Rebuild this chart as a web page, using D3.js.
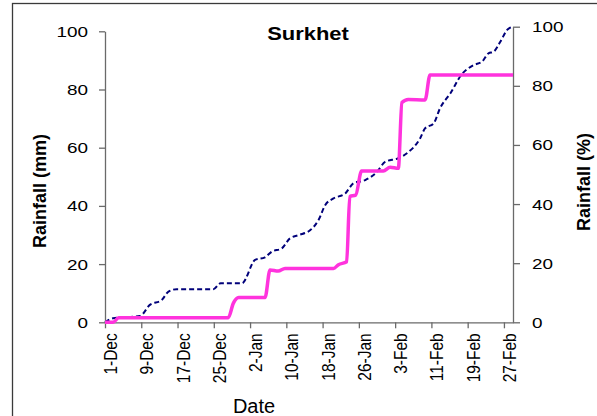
<!DOCTYPE html>
<html>
<head>
<meta charset="utf-8">
<script src="https://cdn.jsdelivr.net/npm/d3@7"></script>
<style>
  html, body { margin: 0; padding: 0; background: #fff; }
  svg { display: block; font-family: "Liberation Sans", Arial, sans-serif; }
</style>
</head>
<body>
<svg id="chart" width="597" height="416"></svg>
<script>
// ---- data (day offsets from 1-Dec; Dec 1 .. Feb 29) ----
const tickDays   = [0, 8, 16, 24, 32, 40, 48, 56, 64, 72, 80, 88];
const tickLabels = ["1-Dec", "9-Dec", "17-Dec", "25-Dec", "2-Jan", "10-Jan", "18-Jan", "26-Jan", "3-Feb", "11-Feb", "19-Feb", "27-Feb"];
const yTicks     = [0, 20, 40, 60, 80, 100];

// cumulative rainfall (mm), left axis – solid magenta
const mmDays   = [0, 1.8, 3, 27.2, 28.3, 29.5, 35.3, 36.4, 38.2, 39.7, 50.4, 51.5, 53.3, 54, 55.3, 56.6, 61.4, 62.9, 64.7, 65.5, 66.9, 70.6, 71.7, 90];
const mmValues = [0, 0, 1.6, 1.6, 6.5, 8.5, 8.5, 18, 17.6, 18.5, 18.5, 19.8, 20.8, 43.2, 43.7, 52, 52, 53.3, 52.9, 75.5, 76.6, 76.4, 85, 85];

// cumulative rainfall (%), right axis – dashed navy
const pctDays   = [0, 1.8, 7.7, 9.9, 12.5, 14, 15.8, 23.9, 25.5, 30.2, 33.1, 35.3, 36.8, 39, 40.8, 42.7, 45.3, 47.1, 48.6, 50.4, 53, 54.8, 57.4, 60, 61.8, 64.7, 66.6, 69.5, 70.6, 72.5, 73.9, 76.2, 78.6, 81.3, 83.2, 84.6, 85.7, 87.2, 88.7, 90];
const pctValues = [0, 1.35, 2.1, 5.9, 7.5, 10.4, 11.2, 11.2, 13.2, 13.2, 21.1, 22, 23.9, 25, 28.4, 29.5, 31.2, 34.6, 39.7, 41.9, 43.6, 47, 48.1, 50.9, 54.3, 55.5, 57.2, 62.2, 65.6, 67.3, 72.4, 77.5, 83.7, 87, 88.2, 91, 91.5, 94.9, 98.9, 100];

const svg = d3.select("#chart");

// outer frame
svg.append("rect")
  .attr("x", 12.5).attr("y", 3.5)
  .attr("width", 620).attr("height", 450)
  .attr("fill", "none").attr("stroke", "#3a3a3a").attr("stroke-width", 1.3);

const x  = d3.scaleLinear().domain([0, 90]).range([105, 513]);
const yL = d3.scaleLinear().domain([0, 100]).range([322.3, 31.3]);
const yR = d3.scaleLinear().domain([0, 100]).range([322.3, 26.7]);

const axisColor = "#6a6a6a";
function styleAxis(g) {
  g.select(".domain").attr("stroke", axisColor).attr("stroke-width", 1.3);
  g.selectAll(".tick line").attr("stroke", axisColor).attr("stroke-width", 1.3);
  g.selectAll(".tick text").attr("fill", "#000");
}

// x axis
const gx = svg.append("g").attr("transform", "translate(0,322.3)")
  .call(d3.axisBottom(x).tickValues(tickDays).tickFormat((d, i) => tickLabels[i]).tickSize(6).tickSizeOuter(0));
styleAxis(gx);
gx.selectAll(".tick text")
  .attr("font-size", 15.5)
  .attr("text-anchor", "end")
  .attr("transform", "rotate(-90) scale(1,1.22)")
  .attr("x", -11).attr("y", 9.4).attr("dy", 0);

// left y axis
const gl = svg.append("g").attr("transform", "translate(105,0)")
  .call(d3.axisLeft(yL).tickValues(yTicks).tickSize(6).tickSizeOuter(0));
styleAxis(gl);
gl.selectAll(".tick text").attr("font-size", 15.5).attr("x", 0)
  .attr("transform", "translate(-17,0) scale(1.22,1)")
  .attr("text-anchor", "end");

// right y axis
const gr = svg.append("g").attr("transform", "translate(513,0)")
  .call(d3.axisRight(yR).tickValues(yTicks).tickSize(7).tickSizeOuter(0));
styleAxis(gr);
gr.selectAll(".tick text").attr("font-size", 15.5).attr("x", 0)
  .attr("transform", "translate(19,0) scale(1.22,1)")
  .attr("text-anchor", "start");

// lines
const lineMM = d3.line()
  .x((d, i) => x(mmDays[i])).y(d => yL(d))
  .curve(d3.curveMonotoneX);
const linePct = d3.line()
  .x((d, i) => x(pctDays[i])).y(d => yR(d))
  .curve(d3.curveMonotoneX);

svg.append("path").datum(pctValues)
  .attr("d", linePct)
  .attr("fill", "none").attr("stroke", "#00007a")
  .attr("stroke-width", 2).attr("stroke-dasharray", "5,3");

svg.append("path").datum(mmValues)
  .attr("d", lineMM)
  .attr("fill", "none").attr("stroke", "#ff33dd")
  .attr("stroke-width", 3.5).attr("stroke-linejoin", "round");

// title
svg.append("text")
  .attr("transform", "translate(308,40) scale(1.22,1)")
  .attr("text-anchor", "middle")
  .attr("font-size", 18).attr("font-weight", "bold")
  .text("Surkhet");

// axis titles
svg.append("text")
  .attr("transform", "translate(46,191) rotate(-90)")
  .attr("text-anchor", "middle")
  .attr("font-size", 18).attr("font-weight", "bold")
  .text("Rainfall (mm)");

svg.append("text")
  .attr("transform", "translate(590,182) rotate(-90)")
  .attr("text-anchor", "middle")
  .attr("font-size", 18).attr("font-weight", "bold")
  .text("Rainfall (%)");

svg.append("text")
  .attr("x", 254).attr("y", 413)
  .attr("text-anchor", "middle")
  .attr("font-size", 20)
  .text("Date");
</script>
</body>
</html>
